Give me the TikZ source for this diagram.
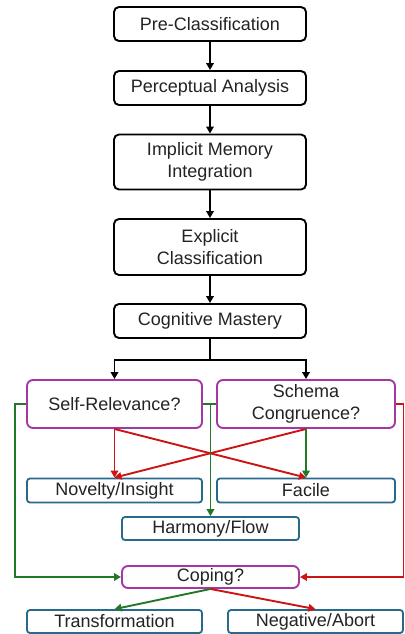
\documentclass[tikz,border=0pt]{standalone}
\usepackage{fontspec}
\setmainfont{Liberation Sans}
\usetikzlibrary{arrows.meta,positioning}
\definecolor{qpurple}{RGB}{165,55,165}
\definecolor{oblue}{RGB}{40,105,140}
\definecolor{okgreen}{RGB}{35,120,40}
\definecolor{badred}{RGB}{205,20,20}
\definecolor{txtgray}{RGB}{35,35,35}
\tikzset{
  blk/.style={rectangle,draw=black,line width=1.9pt,fill=white,minimum width=192pt,
    minimum height=#1,inner sep=0pt,align=center,rounded corners=5pt,
    text=txtgray,font=\fontsize{18}{22}\selectfont},
  blk/.default=34pt,
  qbox/.style={rectangle,draw=qpurple,line width=1.9pt,fill=white,minimum width=#1,
    minimum height=48pt,inner sep=0pt,align=center,rounded corners=6pt,
    text=txtgray,font=\fontsize{18}{22}\selectfont},
  qbox/.default=175pt,
  obox/.style={rectangle,draw=oblue,line width=1.8pt,fill=white,minimum width=#1,
    minimum height=24pt,inner sep=0pt,align=center,rounded corners=3pt,
    text=txtgray,font=\fontsize{18}{22}\selectfont},
  obox/.default=175pt,
  arr/.style={-{Triangle[length=7pt,width=7.5pt]},line width=1.9pt,color=#1},
  arr/.default=black,
  wire/.style={line width=1.9pt,color=#1},
  wire/.default=black
}
\begin{document}
\begin{tikzpicture}[x=1pt,y=-1pt]
  \useasboundingbox (0,0) rectangle (404,634);
  % main chain
  \node[blk] (pre) at (210,24) {Pre-Classification};
  \node[blk] (perc) at (210,88) {Perceptual Analysis};
  \node[blk=55pt] (impl) at (210,162) {Implicit Memory\\Integration};
  \node[blk=56pt] (expl) at (210,247) {Explicit\\Classification};
  \node[blk] (cogm) at (210,321) {Cognitive Mastery};
  % appraisal questions
  \node[qbox] (selfrel) at (114.5,404) {Self-Relevance?};
  \node[qbox=178pt] (schema) at (306,404) {Schema\\Congruence?};
  \node[qbox=177pt,minimum height=22pt] (coping) at (210.5,577) {Coping?};
  % outcomes
  \node[obox] (novel) at (114.5,490.5) {Novelty/Insight};
  \node[obox=178pt] (facile) at (306,490.5) {Facile};
  \node[obox=177pt,minimum height=23pt] (harm) at (210.5,528.5) {Harmony/Flow};
  \node[obox,minimum height=23pt] (transf) at (114.5,621.5) {Transformation};
  \node[obox,minimum height=23pt] (negab) at (315.5,621.5) {Negative/Abort};

  \draw[arr] (pre) -- (perc);
  \draw[arr] (perc) -- (impl);
  \draw[arr] (impl) -- (expl);
  \draw[arr] (expl) -- (cogm);
  \coordinate (split) at (210,360);
  \draw[wire] (cogm) -- (split);
  \draw[arr] (split) -| (selfrel.north);
  \draw[arr] (split) -| (schema.north);

  \draw[arr=badred] (selfrel.south) -- (novel.north);
  \draw[arr=badred] (selfrel.south) -- (facile.north);
  \draw[arr=badred] (schema.south) -- (novel.north);
  \draw[arr=okgreen] (schema.south) -- (facile.north);
  \draw[wire=okgreen] (schema.west) -- (selfrel.east -| harm.north);
  \draw[arr=okgreen] (selfrel.east) -| (harm.north);
  \draw[arr=okgreen] (selfrel.west) -- ++(-11.5,0) |- (coping.west);
  \draw[arr=badred] (schema.east) -- ++(7.5,0) |- (coping.east);

  \draw[arr=okgreen] (coping.south) -- (transf.north);
  \draw[arr=badred] (coping.south) -- (negab.north);
\end{tikzpicture}
\end{document}
